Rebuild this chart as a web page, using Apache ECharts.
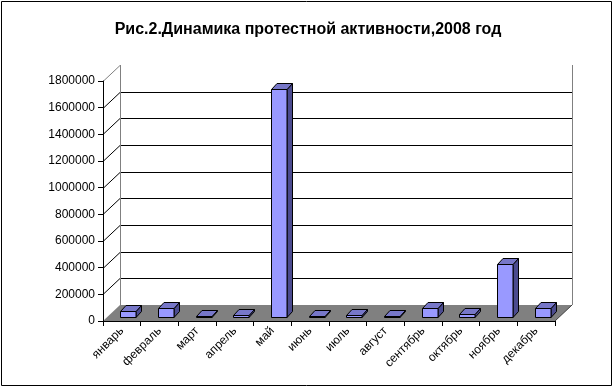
<!DOCTYPE html>
<html>
<head>
<meta charset="utf-8">
<script src="https://cdn.jsdelivr.net/npm/echarts@6/dist/echarts.min.js"></script>
<style>
html,body{margin:0;padding:0;background:#fff;}
#main{width:616px;height:390px;}
</style>
</head>
<body>
<div id="main"></div>
<script>
const titleText = 'Рис.2.Динамика протестной активности,2008 год';
const months = ['январь','февраль','март','апрель','май','июнь','июль','август','сентябрь','октябрь','ноябрь','декабрь'];
const protests = [45000, 70000, 5000, 13000, 1710000, 5000, 15000, 4000, 65000, 20000, 400000, 65000];
const yTicks = [0, 200000, 400000, 600000, 800000, 1000000, 1200000, 1400000, 1600000, 1800000];

const chart = echarts.init(document.getElementById('main'), null, {renderer: 'canvas'});
const DX = 17, DY = -16;      // depth of floor / back wall
const BSX = 6, BSY = -4;      // bar front plane offset
const BDX = 5.5, BDY = -6;    // bar depth

function wallsRender(params, api) {
  const c0 = api.coord([0, 0]);
  const w = api.size([1, 0])[0];
  const x0 = c0[0] - w / 2;
  const x1 = x0 + w * months.length;
  const y0 = c0[1];
  const yTop = api.coord([0, yTicks[yTicks.length - 1]])[1];
  const children = [];
  children.push({type: 'polygon', shape: {points: [[x0 + DX, yTop + DY], [x1 + DX, yTop + DY], [x1 + DX, y0 + DY], [x0 + DX, y0 + DY]]}, style: {fill: '#ffffff', stroke: null}});
  children.push({type: 'polygon', shape: {points: [[x0, y0], [x1, y0], [x1 + DX, y0 + DY], [x0 + DX, y0 + DY]]}, style: {fill: '#808080', stroke: null}});
  children.push({type: 'line', shape: {x1: x1, y1: y0, x2: x1 + DX, y2: y0 + DY}, style: {stroke: '#404040', lineWidth: 1}});
  yTicks.forEach(function (v, i) {
    const y = Math.round(api.coord([0, v])[1]) + 0.5;
    if (i > 0) {
      const last = i === yTicks.length - 1;
      children.push({type: 'line', shape: {x1: x0, y1: y, x2: x0 + DX, y2: y + DY}, style: {stroke: last ? '#808080' : '#000', lineWidth: 1}});
      if (!last) {
        children.push({type: 'line', shape: {x1: x0 + DX, y1: y + DY, x2: x1 + DX, y2: y + DY}, style: {stroke: '#000', lineWidth: 1}});
      }
    }
  });
  const lx = Math.round(x0 + DX) + 0.5, rx = Math.round(x1 + DX) + 0.5;
  children.push({type: 'line', shape: {x1: lx, y1: yTop + DY, x2: lx, y2: y0 + DY}, style: {stroke: '#808080', lineWidth: 1}});
  children.push({type: 'line', shape: {x1: rx, y1: yTop + DY, x2: rx, y2: y0 + DY}, style: {stroke: '#808080', lineWidth: 1}});
  return {type: 'group', children: children};
}

function barRender(params, api) {
  const idx = api.value(0), v = api.value(1);
  const base = api.coord([idx, 0]);
  const top = api.coord([idx, v]);
  const bw = api.size([1, 0])[0] * 0.4;
  const l = Math.round(base[0] - bw / 2 + BSX) + 0.5;
  const r = Math.round(l + bw);
  const b = Math.round(base[1] + BSY) + 0.5;
  const t = Math.round(top[1] + BSY) + 0.5;
  return {type: 'group', children: [
    {type: 'polygon', shape: {points: [[r, t], [r + BDX, t + BDY], [r + BDX, b + BDY], [r, b]]}, style: {fill: '#4B4B8F', stroke: '#000', lineWidth: 1}},
    {type: 'polygon', shape: {points: [[l, t], [r, t], [r + BDX, t + BDY], [l + BDX, t + BDY]]}, style: {fill: '#7777C8', stroke: '#000', lineWidth: 1}},
    {type: 'rect', shape: {x: l, y: t, width: r - l, height: Math.max(b - t, 0)}, style: {fill: '#9999FF', stroke: '#000', lineWidth: 1}}
  ]};
}

const option = {
  animation: false,
  backgroundColor: '#ffffff',
  title: {
    text: titleText, left: 'center', top: 17,
    textStyle: {fontFamily: 'Liberation Sans, Arial', fontSize: 16, fontWeight: 'bold', color: '#000'}
  },
  grid: {left: 103, right: 61, top: 81, bottom: 69, containLabel: false},
  xAxis: {
    type: 'category', data: months, boundaryGap: true,
    axisLine: {show: true, lineStyle: {color: '#000', width: 1}},
    axisTick: {show: true, length: 5, alignWithLabel: false, lineStyle: {color: '#000'}},
    axisLabel: {rotate: 45, interval: 0, margin: 8, fontFamily: 'Liberation Sans, Arial', fontSize: 12, color: '#000'},
    splitLine: {show: false}, z: 5
  },
  yAxis: {
    type: 'value', min: 0, max: 1800000, interval: 200000,
    axisLine: {show: true, lineStyle: {color: '#000', width: 1}},
    axisTick: {show: true, length: 5, lineStyle: {color: '#000'}},
    axisLabel: {margin: 8, fontFamily: 'Liberation Sans, Arial', fontSize: 12, color: '#000',
      formatter: function (v) { return String(v); }},
    splitLine: {show: false}, z: 5
  },
  graphic: [{type: 'rect', shape: {x: 1.5, y: 1.5, width: 610, height: 384}, style: {fill: null, stroke: '#000', lineWidth: 1}, z: 100}],
  series: [
    {type: 'custom', name: 'walls', clip: false, z: 1, silent: true, renderItem: wallsRender, data: [[0, 0]]},
    {type: 'custom', name: 'bars', clip: false, z: 3, renderItem: barRender, encode: {x: 0, y: 1},
     data: protests.map(function (v, i) { return [i, v]; })}
  ]
};
chart.setOption(option);
</script>
</body>
</html>
